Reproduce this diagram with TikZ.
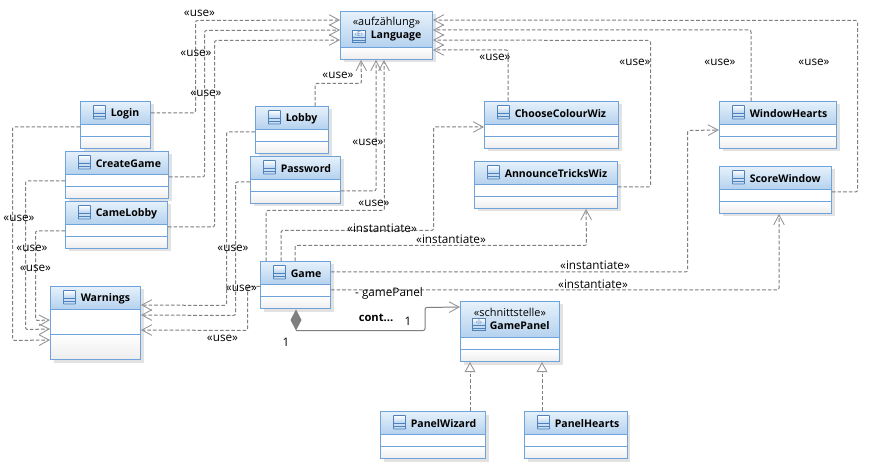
\documentclass[tikz,border=0pt]{standalone}
\usepackage{fontspec}
\setmainfont{Open Sans}
\usetikzlibrary{arrows.meta,calc}
\definecolor{umlborder}{HTML}{6FA3DC}
\definecolor{umltop}{HTML}{E6F1FB}
\definecolor{umlbot}{HTML}{B4D1EE}
\definecolor{umlgray}{HTML}{EDEDED}
\definecolor{umlshadow}{HTML}{E2E2E2}
\definecolor{umlicon}{HTML}{4F81BD}
\definecolor{umlline}{HTML}{7F7F7F}
\definecolor{umltip}{HTML}{959595}
\tikzset{
  dep/.style={draw=umlline,line width=0.75pt,dash pattern=on 2.7pt off 1.5pt,rounded corners=1.5pt,
    -{Straight Barb[length=7.5pt,width=8pt,line width=0.65pt,color=umltip]}},
  real/.style={draw=umlline,line width=0.75pt,dash pattern=on 2.7pt off 1.5pt,
    -{Triangle[open,length=7.5pt,width=8pt,line width=0.65pt,color=umltip,fill=white]}},
  comp/.style={draw=umlline,line width=0.75pt,rounded corners=1.5pt,
    -{Straight Barb[length=7.5pt,width=8pt,line width=0.65pt,color=umltip]}},
  lab/.style={inner sep=0pt,yshift=-0.6pt,font=\fontsize{8.8}{10}\selectfont,text=black},
  ttl/.style={inner sep=0pt,anchor=west,yshift=-0.4pt,font=\fontsize{7.9}{10}\selectfont\bfseries},
  stereo/.style={inner sep=0pt,yshift=-0.4pt,font=\fontsize{8.2}{10}\selectfont},
  umlframe/.style={rectangle,draw=umlborder,line width=0.75pt,inner sep=0pt},
  umlsep/.style={draw=umlborder,line width=0.75pt},
}
% name, x1,y1,x2,y2, header bottom, separator
\newcommand{\umlbox}[7]{%
  \fill[umlshadow] (#2+3,#3+3) rectangle (#4+3,#5+3);
  \fill[white] (#2,#3) rectangle (#4,#5);
  \shade[top color=umltop,bottom color=umlbot] (#2,#3) rectangle (#4,#6);
  \shade[top color=white,bottom color=umlgray] (#2,#7) rectangle (#4,#5);
  \draw[umlsep] (#2,#6) -- (#4,#6);
  \draw[umlsep] (#2,#7) -- (#4,#7);
  \pgfmathsetmacro{\bw}{(#4-#2)*0.75}\pgfmathsetmacro{\bh}{(#5-#3)*0.75}
  \node[umlframe,minimum width=\bw pt,minimum height=\bh pt] (#1) at ({(#2+#4)/2},{(#3+#5)/2}) {};
}
% class icon x,y = upper left
\newcommand{\clsicon}[2]{%
  \shade[top color=white,bottom color=umlbot] (#1,#2) rectangle (#1+12,#2+8);
  \draw[umlicon,line width=0.7pt,rounded corners=0.4pt] (#1,#2) rectangle (#1+12,#2+13.5);
  \draw[umlicon,line width=0.7pt] (#1,#2+7.5) -- (#1+12,#2+7.5) (#1,#2+10.5) -- (#1+12,#2+10.5);
}
% box name, icon x, y top of box, title
\newcommand{\cls}[4]{%
  \clsicon{#2}{#3+4}
  \node[ttl] (#1-t) at (#2+17,#3+11.5) {#4};
}
% enum/interface icon
\newcommand{\kindicon}[4]{%
  \shade[top color=white,bottom color=umlbot] (#2,#3) rectangle (#2+13,#3+7);
  \draw[umlicon,line width=0.7pt] (#2,#3) rectangle (#2+13,#3+12);
  \draw[umlicon,line width=0.7pt] (#2,#3+7) -- (#2+13,#3+7) (#2,#3+9.5) -- (#2+13,#3+9.5);
  \node[inner sep=0pt,font=\fontsize{5.2}{5}\selectfont,text=umlicon] (#1) at (#2+6.5,#3+3.4) {#4};
}
\newcommand{\lb}[4]{\node[lab] (#1) at (#2,#3) {#4};}
\begin{document}
\begin{tikzpicture}[x=0.75pt,y=-0.75pt]
\useasboundingbox (0,0) rectangle (884,466);
\fill[white] (0,0) rectangle (884,466);

\umlbox{login}{80.5}{101.5}{150.5}{148.5}{124.5}{136.5}
\cls{login}{93.5}{101.5}{Login}
\umlbox{create}{65.5}{151.5}{168.5}{198.5}{174.5}{186.5}
\cls{create}{78.5}{151.5}{CreateGame}
\umlbox{came}{65.5}{201.5}{167.5}{248.5}{224.5}{236.5}
\cls{came}{78.5}{201.5}{CameLobby}
\umlbox{warn}{50.5}{286.5}{140.5}{359.5}{309.5}{334.5}
\cls{warn}{63.5}{286.5}{Warnings}
\umlbox{lobby}{255.5}{106.5}{328.5}{153.5}{129.5}{141.5}
\cls{lobby}{268.5}{106.5}{Lobby}
\umlbox{pass}{250.5}{156.5}{340.5}{203.5}{179.5}{191.5}
\cls{pass}{263.5}{156.5}{Password}
\umlbox{lang}{340.5}{11.5}{432.5}{59.5}{47.5}{47.5}
\kindicon{lang-k}{352.5}{30.5}{‹E›}
\node[stereo] (lang-s) at (386.5,22.5) {«aufzählung»};
\node[ttl] (lang-t) at (370.5,35.5) {Language};
\umlbox{choose}{484.5}{101.5}{618.5}{148.5}{124.5}{136.5}
\cls{choose}{497.5}{101.5}{ChooseColourWiz}
\umlbox{announce}{474.5}{161.5}{617.5}{208.5}{184.5}{196.5}
\cls{announce}{487.5}{161.5}{AnnounceTricksWiz}
\umlbox{hearts}{719.5}{101.5}{836.5}{148.5}{124.5}{136.5}
\cls{hearts}{732.5}{101.5}{WindowHearts}
\umlbox{score}{719.5}{166.5}{831.5}{213.5}{189.5}{201.5}
\cls{score}{732.5}{166.5}{ScoreWindow}
\umlbox{game}{260.5}{261.5}{330.5}{308.5}{284.5}{296.5}
\cls{game}{273.5}{261.5}{Game}
\umlbox{panel}{460.5}{301.5}{559.5}{361.5}{337.5}{349.5}
\kindicon{panel-k}{472.5}{318.5}{‹I›}
\node[stereo] (panel-s) at (510,312) {«schnittstelle»};
\node[ttl] (panel-t) at (489.5,325) {GamePanel};
\umlbox{wizard}{380.5}{411.5}{485.5}{458.5}{434.5}{446.5}
\cls{wizard}{393.5}{411.5}{PanelWizard}
\umlbox{phearts}{524.5}{411.5}{627}{458.5}{434.5}{446.5}
\cls{phearts}{537.5}{411.5}{PanelHearts}

% to Language, left
\draw[dep] ($(login.north east)+(0,12)$) -| (195.5,20.5) -- ($(lang.north west)+(0,9)$);
\draw[dep] ($(create.north east)+(0,26)$) -| (204.5,30.5) -- ($(lang.north west)+(0,19)$);
\draw[dep] ($(came.north east)+(0,26)$) -| (214.5,40.5) -- ($(lang.north west)+(0,29)$);
% to Language, right
\draw[dep] ($(score.north east)+(0,26)$) -| (857.5,20.5) -- ($(lang.north east)+(0,9)$);
\draw[dep] ($(hearts.north west)+(32,0)$) |- ($(lang.north east)+(0,19)$);
\draw[dep] ($(announce.north east)+(0,26)$) -| (650.5,40.5) -- ($(lang.north east)+(0,29)$);
\draw[dep] ($(choose.north west)+(24,0)$) |- ($(lang.north east)+(0,39)$);
% to Language, below
\draw[dep] ($(lobby.north west)+(60,0)$) |- (361.5,83.5) -- ($(lang.south west)+(21,0)$);
\draw[dep] ($(pass.north east)+(0,35)$) -| ($(lang.south west)+(36,0)$);
\draw[dep] ($(game.north west)+(6,0)$) |- (384.5,210.5) -- ($(lang.south west)+(44,0)$);
% from Game
\draw[dep] ($(game.north west)+(21,0)$) |- (433.5,230.5) |- ($(choose.north west)+(0,26)$);
\draw[dep] ($(game.north west)+(35,0)$) |- (586.5,245.5) -- ($(announce.south west)+(112,0)$);
\draw[dep] ($(game.north east)+(0,11)$) -| (687.5,130.5) -- ($(hearts.north west)+(0,29)$);
\draw[dep] ($(game.north east)+(0,29)$) -| ($(score.south west)+(60,0)$);
% to Warnings
\draw[dep] ($(game.north west)+(0,25.5)$) -| (247.5,330.5) -- ($(warn.north east)+(0,44)$);
\draw[dep] ($(lobby.north west)+(0,26)$) -| (226.5,305.5) -- ($(warn.north east)+(0,19)$);
\draw[dep] ($(pass.north west)+(0,26)$) -| (235.5,315.5) -- ($(warn.north east)+(0,29)$);
\draw[dep] ($(login.north west)+(0,26)$) -| (12.5,340.5) -- ($(warn.north west)+(0,54)$);
\draw[dep] ($(create.north west)+(0,30)$) -| (25.5,329.5) -- ($(warn.north west)+(0,43)$);
\draw[dep] ($(came.north west)+(0,30)$) -| (35.5,320.5) -- ($(warn.north west)+(0,34)$);
% composition
\draw[comp] ($(game.south west)+(36,21.5)$) -| (425,307.5) -- ($(panel.north west)+(0,6)$);
\fill[umlline] ($(game.south west)+(36,0.5)$) -- ++(5.5,10.5) -- ++(-5.5,10.5) -- ++(-5.5,-10.5) -- cycle;
% realizations
\draw[real] ($(wizard.north west)+(90,0)$) -- ($(panel.south west)+(10,0)$);
\draw[real] ($(phearts.north west)+(18,0)$) -- ($(panel.south west)+(82,0)$);

\lb{u1}{199.5}{13}{«use»}
\lb{u2}{196}{53}{«use»}
\lb{u3}{206}{93}{«use»}
\lb{u4}{19}{218}{«use»}
\lb{u5}{32}{248}{«use»}
\lb{u6}{35.5}{268}{«use»}
\lb{u7}{233}{247.5}{«use»}
\lb{u8}{241.5}{287.5}{«use»}
\lb{u9}{222.5}{337.5}{«use»}
\lb{u10}{338}{75}{«use»}
\lb{u11}{368}{142}{«use»}
\lb{u12}{374}{203}{«use»}
\lb{u13}{495}{57}{«use»}
\lb{u14}{635}{62}{«use»}
\lb{u15}{720}{62}{«use»}
\lb{u16}{814}{62}{«use»}
\lb{i1}{382}{227}{«instantiate»}
\lb{i2}{451}{238}{«instantiate»}
\lb{i3}{595}{264}{«instantiate»}
\lb{i4}{593}{283}{«instantiate»}
\lb{g1}{389}{293}{- gamePanel}
\node[lab,font=\fontsize{8.4}{10}\selectfont\bfseries] (c1) at (376,317) {cont...};
\lb{m1}{408}{321}{1}
\lb{m2}{286}{342}{1}
\end{tikzpicture}
\end{document}
